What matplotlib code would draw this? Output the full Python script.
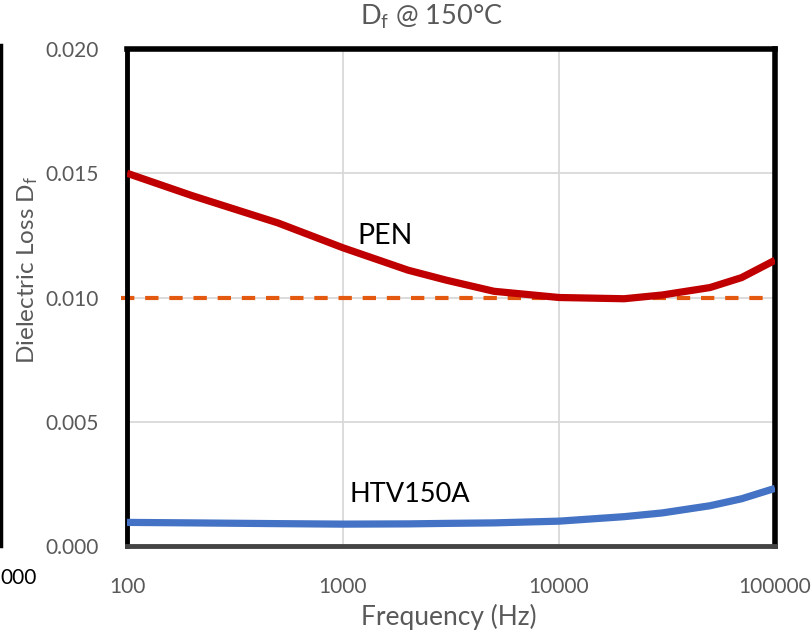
import matplotlib
matplotlib.use("Agg")
import matplotlib.pyplot as plt
from matplotlib.lines import Line2D

freq = [100, 200, 500, 1000, 2000, 3000, 5000, 10000, 20000, 30000, 50000, 70000, 100000]
pen = [0.0150, 0.0141, 0.0130, 0.0120, 0.0111, 0.0107, 0.01025, 0.0100, 0.00995, 0.0101, 0.0104, 0.0108, 0.0115]
htv = [0.00095, 0.00093, 0.00090, 0.00088, 0.00089, 0.00091, 0.00093, 0.00100, 0.00118, 0.00133, 0.00162, 0.00190, 0.00232]
ref_level = 0.010
yticks = [0.000, 0.005, 0.010, 0.015, 0.020]
xticks = [100, 1000, 10000, 100000]

plt.rcParams['font.family'] = ['Lato', 'DejaVu Sans']
plt.rcParams['mathtext.default'] = 'regular'
grey = '#595959'

fig = plt.figure(figsize=(8.11, 6.35), dpi=100)
ax = fig.add_axes([127/811, 1-546/635, 648/811, 497/635])

ax.set_xscale('log')
ax.set_xlim(100, 100000)
ax.set_ylim(0, 0.020)
ax.set_xticks(xticks)
ax.set_xticklabels([str(x) for x in xticks])
ax.minorticks_off()
ax.set_yticks(yticks)
ax.set_yticklabels([f"{v:.3f}" for v in yticks])
ax.tick_params(length=0, labelsize=15, colors=grey)
ax.tick_params(axis='x', pad=22)
ax.tick_params(axis='y', pad=20)
ax.grid(True, color='#d9d9d9', lw=1.3)
ax.set_axisbelow(True)

ax.axhline(ref_level, color='#E2590F', lw=3, dashes=(3.2, 2.6), zorder=2, clip_on=False,
           xmin=-0.01, xmax=0.995)
ax.plot(freq, pen, color='#C00000', lw=5.2, solid_capstyle='butt', solid_joinstyle='round', zorder=3)
ax.plot(freq, htv, color='#4472C4', lw=5.2, solid_capstyle='butt', solid_joinstyle='round', zorder=3)

ax.text(357/811, 1-236/635, 'PEN', transform=fig.transFigure, fontsize=20.5, color='black', va='center')
ax.text(350/811, 1-494/635, 'HTV150A', transform=fig.transFigure, fontsize=19.5, color='black', va='center')

for s in ['top', 'right']:
    ax.spines[s].set_linewidth(4)
    ax.spines[s].set_color('black')
ax.spines['left'].set_linewidth(3.5)
ax.spines['left'].set_color('black')
ax.spines['bottom'].set_linewidth(3.5)
ax.spines['bottom'].set_color('#444444')

fig.text(431/811, 1-17/635, r'$D_f$ @ 150°C', ha='center', va='center', fontsize=19.5, color=grey)
fig.text(449/811, 1-617/635, 'Frequency (Hz)', ha='center', va='center', fontsize=19, color=grey)
fig.text(28/811, 1-270/635, r'Dielectric Loss $D_f$', ha='center', va='center', rotation=90,
         fontsize=17.5, color=grey)

# partial neighbouring chart at left edge
fig.add_artist(Line2D([1/811, 1/811], [1-45/635, 1-546/635], color='black', lw=2.5,
                      transform=fig.transFigure))
fig.text(0, 1-578/635, '000', ha='left', va='center', fontsize=15, color='black')

fig.savefig('out.png', dpi=100)
